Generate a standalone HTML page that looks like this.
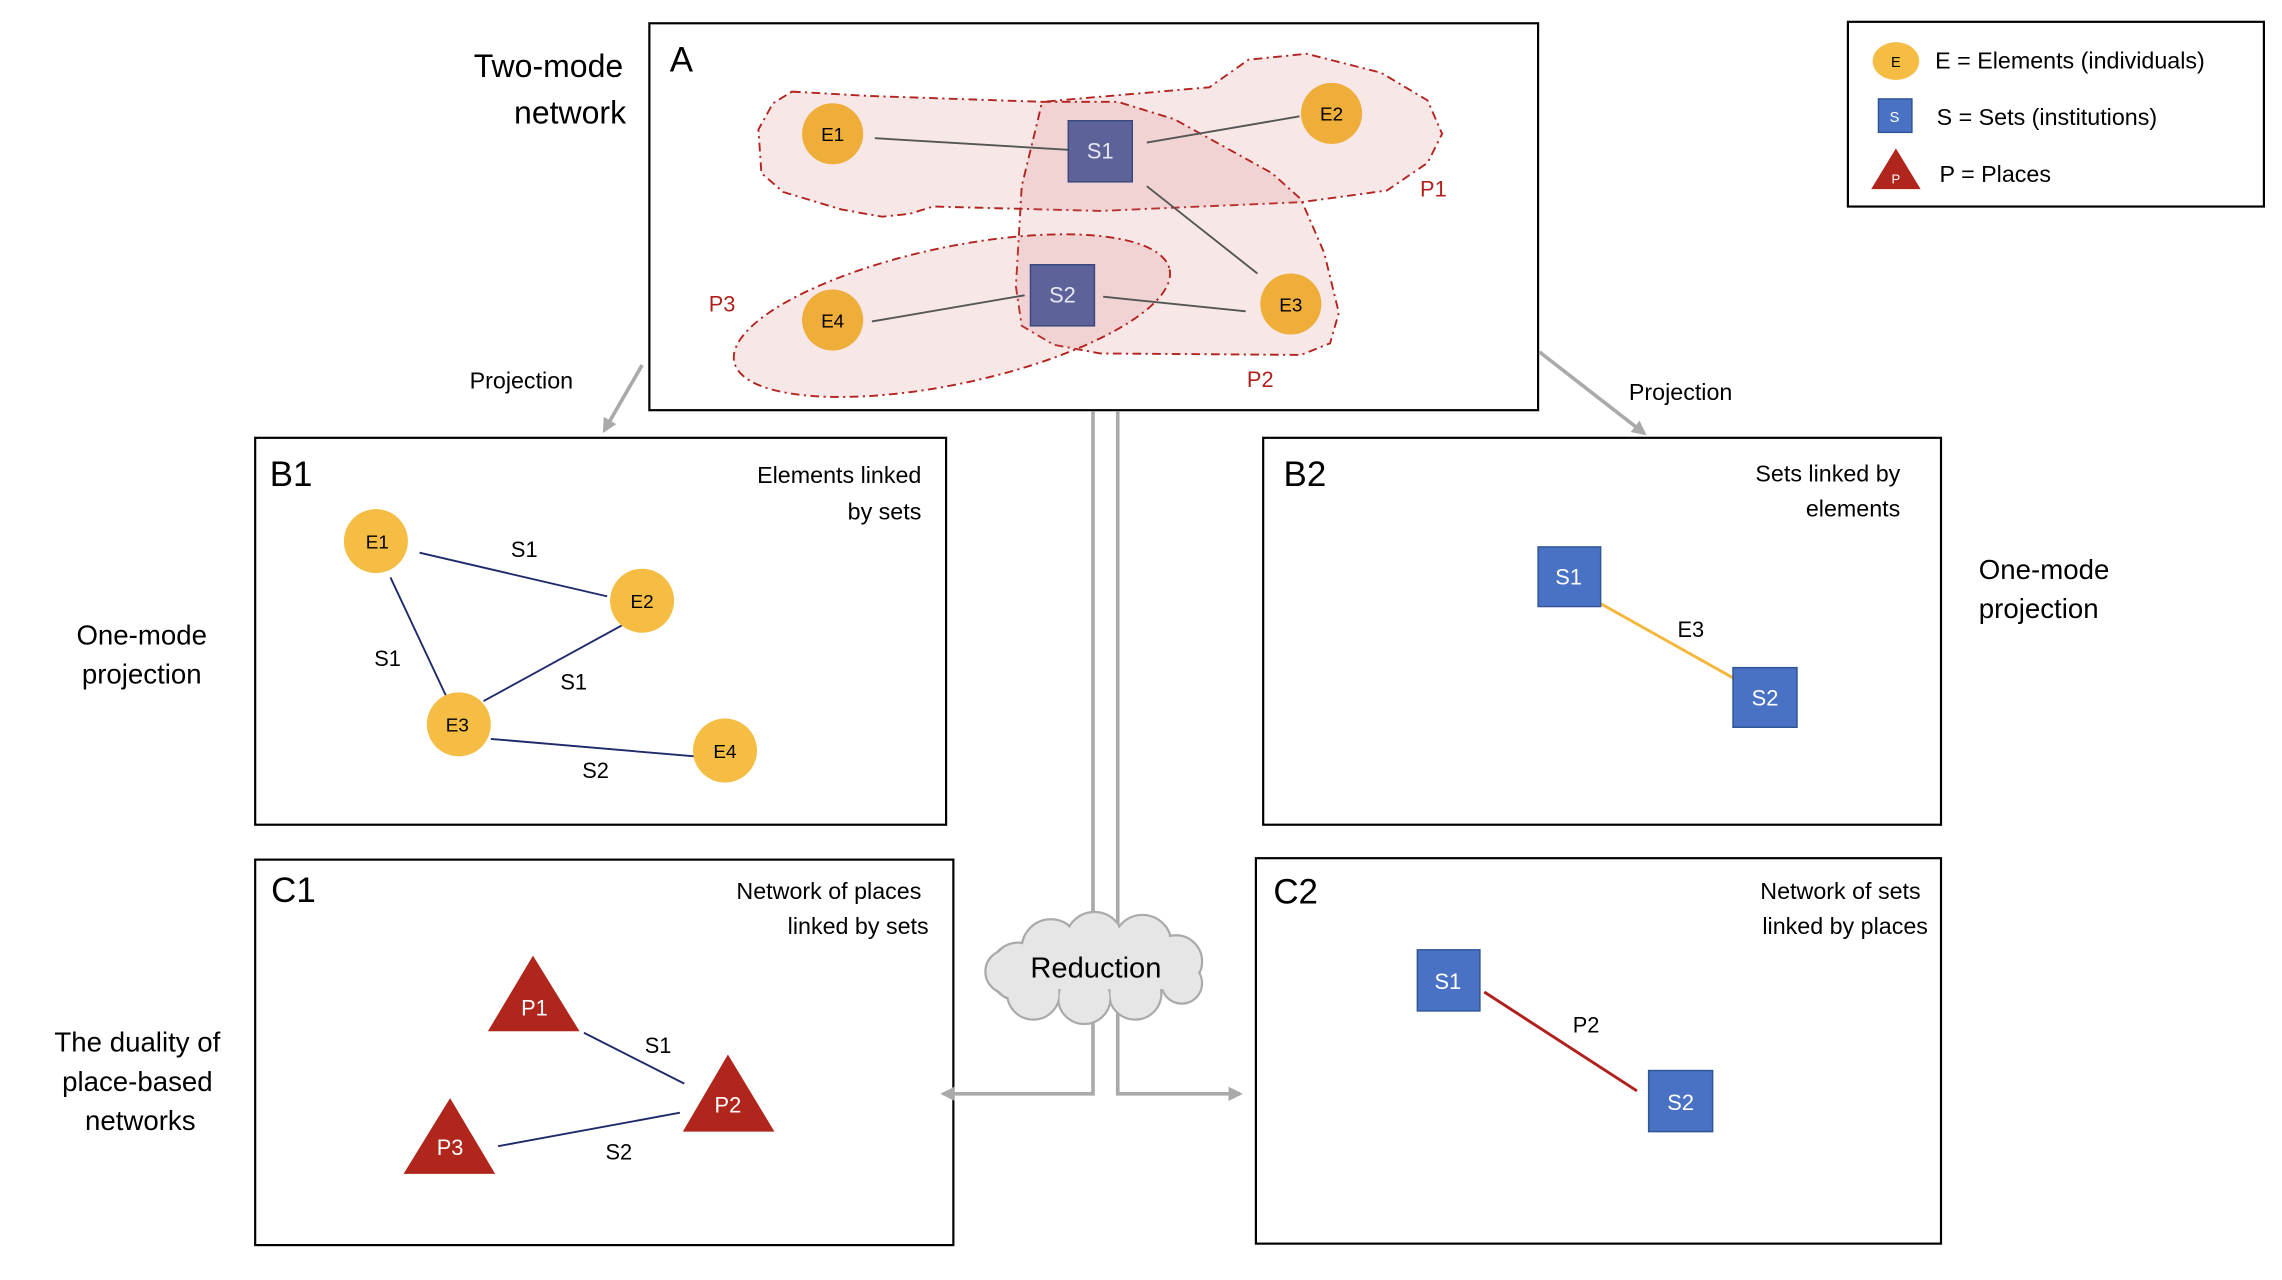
<!DOCTYPE html>
<html><head><meta charset="utf-8"><style>
html,body{margin:0;padding:0;background:#fff;}
svg{display:block;}
text{font-family:"Liberation Sans",sans-serif;}
</style></head><body>
<svg width="2282" height="1280" viewBox="0 0 1568 880" xmlns="http://www.w3.org/2000/svg">
<defs>
<marker id="ah" viewBox="0 0 10 10" refX="8" refY="5" markerWidth="4" markerHeight="4" orient="auto"><path d="M0,0 L10,5 L0,10 z" fill="#aaa"/></marker>
</defs>
<rect width="1568" height="880" fill="#fff"/>

<!-- Box A -->
<rect x="446" y="16" width="611" height="266" fill="#fff" stroke="#000" stroke-width="1.5"/>
<text x="460" y="49" font-size="24">A</text>
<g fill="rgba(215,120,120,0.18)" stroke="#b3231f" stroke-width="1.3" stroke-dasharray="6,3,1.5,3">
<path d="M544,63 L598,66 L716,70 L831,60 L858,41 L898,37 L949,50 L981,69 L991,92 L981,112 L953,131 L894,139 L756,145 L641,142 L625,147 L606,149 L578,144 L538,132 L523,119 L521,89 L531,71 Z"/>
<path d="M716,70 L768,70 L807,82 L874,119 L894,137 L910,174 L920,215 L914,236 L894,244 L756,243 L724,237 L702,224 L698,197 L702,128 L712,87 Z"/>
<ellipse cx="654" cy="217" rx="153" ry="47" transform="rotate(-12 654 217)"/>
</g>
<g stroke="#555" stroke-width="1.3">
<line x1="601" y1="95" x2="734" y2="103"/><line x1="788" y1="98" x2="893" y2="80"/>
<line x1="788" y1="128" x2="864" y2="188"/><line x1="599" y1="221" x2="704" y2="203"/>
<line x1="758" y1="204" x2="856" y2="214"/>
</g>
<g fill="#efad3a">
<ellipse cx="572" cy="92" rx="21" ry="21"/><ellipse cx="915" cy="78" rx="21" ry="21"/>
<ellipse cx="887" cy="209" rx="21" ry="21"/><ellipse cx="572" cy="220" rx="21" ry="21"/>
</g>
<g font-size="13" text-anchor="middle">
<text x="572" y="97">E1</text><text x="915" y="83">E2</text><text x="887" y="214">E3</text><text x="572" y="225">E4</text>
</g>
<rect x="734" y="83" width="44" height="42" fill="#5d6399" stroke="#3c4680"/>
<rect x="708" y="182" width="44" height="42" fill="#5d6399" stroke="#3c4680"/>
<g font-size="15" fill="#e8e8f4" text-anchor="middle"><text x="756" y="109">S1</text><text x="730" y="208">S2</text></g>
<g font-size="15" fill="#b0201c" text-anchor="middle"><text x="985" y="135">P1</text><text x="866" y="266">P2</text><text x="496" y="214">P3</text></g>

<!-- Legend -->
<rect x="1270" y="15" width="286" height="127" fill="#fff" stroke="#000" stroke-width="1.5"/>
<ellipse cx="1303" cy="42" rx="16" ry="13" fill="#f5bd43"/>
<text x="1303" y="46" font-size="10" text-anchor="middle">E</text>
<text x="1330" y="47" font-size="16">E = Elements (individuals)</text>
<rect x="1291" y="68" width="23" height="23" fill="#4a72c4" stroke="#2f5597"/>
<text x="1302" y="84" font-size="10" fill="#fff" text-anchor="middle">S</text>
<text x="1331" y="86" font-size="16">S = Sets (institutions)</text>
<polygon points="1303,102 1320,130 1286,130" fill="#b0261c"/>
<text x="1303" y="126" font-size="9" fill="#fff" text-anchor="middle">P</text>
<text x="1333" y="125" font-size="16">P = Places</text>

<!-- Side labels -->
<g font-size="22" text-anchor="end"><text x="428" y="53">Two-mode</text><text x="430" y="85">network</text></g>
<g font-size="19" text-anchor="middle"><text x="97" y="443">One-mode</text><text x="97" y="470">projection</text>
<text x="94" y="723">The duality of</text><text x="94" y="750">place-based</text><text x="96" y="777">networks</text></g>
<g font-size="19"><text x="1360" y="398">One-mode</text><text x="1360" y="425">projection</text></g>
<g font-size="16" text-anchor="middle"><text x="358" y="267">Projection</text><text x="1155" y="275">Projection</text></g>

<!-- B1 -->
<rect x="175" y="301" width="475" height="266" fill="#fff" stroke="#000" stroke-width="1.5"/>
<text x="185" y="334" font-size="24">B1</text>
<g font-size="16" text-anchor="end"><text x="633" y="332">Elements linked</text><text x="633" y="357">by sets</text></g>
<g stroke="#1f2a6b" stroke-width="1.3">
<line x1="288" y1="380" x2="417" y2="410"/><line x1="268" y1="397" x2="306" y2="478"/>
<line x1="427" y1="430" x2="332" y2="482"/><line x1="337" y1="508" x2="477" y2="520"/>
</g>
<g fill="#f5bd43"><circle cx="258" cy="372" r="22"/><circle cx="441" cy="413" r="22"/><circle cx="315" cy="498" r="22"/><circle cx="498" cy="516" r="22"/></g>
<g font-size="13" text-anchor="middle"><text x="259" y="377">E1</text><text x="441" y="418">E2</text><text x="314" y="503">E3</text><text x="498" y="521">E4</text></g>
<g font-size="15" text-anchor="middle"><text x="360" y="383">S1</text><text x="266" y="458">S1</text><text x="394" y="474">S1</text><text x="409" y="535">S2</text></g>

<!-- B2 -->
<rect x="868" y="301" width="466" height="266" fill="#fff" stroke="#000" stroke-width="1.5"/>
<text x="882" y="334" font-size="24">B2</text>
<g font-size="16" text-anchor="end"><text x="1306" y="331">Sets linked by</text><text x="1306" y="355">elements</text></g>
<line x1="1100" y1="415" x2="1191" y2="466" stroke="#f3b73c" stroke-width="2"/>
<rect x="1057" y="376" width="43" height="41" fill="#4a72c4" stroke="#2f5597"/>
<rect x="1191" y="459" width="44" height="41" fill="#4a72c4" stroke="#2f5597"/>
<g font-size="15" fill="#fff" text-anchor="middle"><text x="1078" y="402">S1</text><text x="1213" y="485">S2</text></g>
<text x="1162" y="438" font-size="15" text-anchor="middle">E3</text>

<!-- C1 -->
<rect x="175" y="591" width="480" height="265" fill="#fff" stroke="#000" stroke-width="1.5"/>
<text x="186" y="620" font-size="24">C1</text>
<g font-size="16" text-anchor="end"><text x="633" y="618">Network of places</text><text x="638" y="642">linked by sets</text></g>
<g stroke="#1f2a6b" stroke-width="1.3"><line x1="401" y1="710" x2="470" y2="745"/><line x1="342" y1="788" x2="467" y2="765"/></g>
<g fill="#b0261c"><polygon points="366,657 398,709 335,709"/><polygon points="500,725 532,778 469,778"/><polygon points="309,755 340,807 277,807"/></g>
<g font-size="15" fill="#fff" text-anchor="middle"><text x="367" y="698">P1</text><text x="500" y="765">P2</text><text x="309" y="794">P3</text></g>
<g font-size="15" text-anchor="middle"><text x="452" y="724">S1</text><text x="425" y="797">S2</text></g>

<!-- C2 -->
<rect x="863" y="590" width="471" height="265" fill="#fff" stroke="#000" stroke-width="1.5"/>
<text x="875" y="621" font-size="24">C2</text>
<g font-size="16" text-anchor="end"><text x="1320" y="618">Network of sets</text><text x="1325" y="642">linked by places</text></g>
<line x1="1020" y1="682" x2="1125" y2="750" stroke="#b0201c" stroke-width="2"/>
<rect x="974" y="653" width="43" height="42" fill="#4a72c4" stroke="#2f5597"/>
<rect x="1133" y="736" width="44" height="42" fill="#4a72c4" stroke="#2f5597"/>
<g font-size="15" fill="#fff" text-anchor="middle"><text x="995" y="680">S1</text><text x="1155" y="763">S2</text></g>
<text x="1090" y="710" font-size="15" text-anchor="middle">P2</text>

<!-- Connectors -->
<g stroke="#aaa" stroke-width="2.5" fill="none">
<line x1="441" y1="251" x2="415" y2="296" marker-end="url(#ah)"/>
<line x1="1058" y1="242" x2="1130" y2="298" marker-end="url(#ah)"/>
<polyline points="751,283 751,752 648,752" marker-end="url(#ah)"/>
<polyline points="768,283 768,752 852,752" marker-end="url(#ah)"/>
</g>

<!-- Cloud -->
<g fill="#e6e6e6" stroke="#aaa" stroke-width="1.5">
<circle cx="700" cy="668" r="20"/><circle cx="722" cy="652" r="20"/><circle cx="752" cy="647" r="20"/><circle cx="785" cy="649" r="20"/><circle cx="808" cy="661" r="18"/><circle cx="812" cy="676" r="14"/><circle cx="780" cy="683" r="18"/><circle cx="745" cy="686" r="18"/><circle cx="710" cy="683" r="18"/><circle cx="692" cy="668" r="15"/>
</g>
<g fill="#e6e6e6">
<circle cx="700" cy="668" r="19"/><circle cx="722" cy="652" r="19"/><circle cx="752" cy="647" r="19"/><circle cx="785" cy="649" r="19"/><circle cx="808" cy="661" r="17"/><circle cx="812" cy="676" r="13"/><circle cx="780" cy="683" r="17"/><circle cx="745" cy="686" r="17"/><circle cx="710" cy="683" r="17"/><circle cx="692" cy="668" r="14"/>
<rect x="705" y="650" width="100" height="30"/>
</g>
<text x="753" y="672" font-size="20" text-anchor="middle">Reduction</text>
</svg>
</body></html>
